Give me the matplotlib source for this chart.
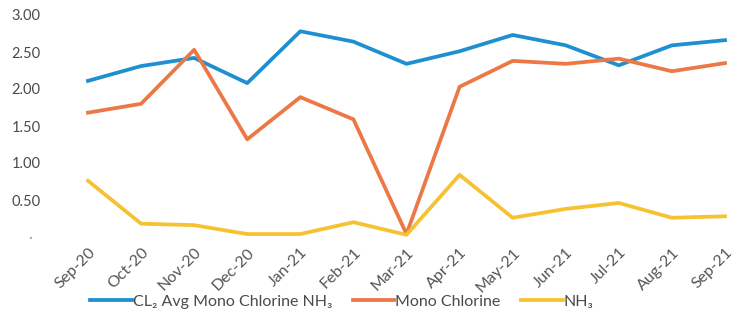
import matplotlib
matplotlib.use('Agg')
import matplotlib.pyplot as plt
import numpy as np

plt.rcParams['font.family'] = ['Lato', 'DejaVu Sans']

months = ['Sep-20', 'Oct-20', 'Nov-20', 'Dec-20', 'Jan-21', 'Feb-21', 'Mar-21',
          'Apr-21', 'May-21', 'Jun-21', 'Jul-21', 'Aug-21', 'Sep-21']
cl2_avg = [2.11, 2.31, 2.42, 2.08, 2.78, 2.64, 2.34, 2.51, 2.73, 2.59, 2.32, 2.59, 2.66]
mono_cl = [1.68, 1.80, 2.53, 1.32, 1.89, 1.59, 0.04, 2.03, 2.38, 2.34, 2.41, 2.24, 2.35]
nh3 = [0.76, 0.18, 0.16, 0.04, 0.04, 0.20, 0.03, 0.84, 0.26, 0.38, 0.46, 0.26, 0.28]
yticks = [0, 0.5, 1.0, 1.5, 2.0, 2.5, 3.0]
ytick_labels = ['\u2007\u2007\u00b7', '0.50', '1.00', '1.50', '2.00', '2.50', '3.00']

BLUE = '#1e8fd0'
ORANGE = '#ec7846'
YELLOW = '#f6c232'
TXT = '#4a4a4a'

fig = plt.figure(figsize=(7.41, 3.12), dpi=100)
ax = fig.add_axes([88 / 741, 75 / 312, (725 - 88) / 741, (237 - 15) / 312])

x = np.arange(len(months))
ax.plot(x, cl2_avg, color=BLUE, lw=2.7, clip_on=False,
        label='CL\u2082 Avg Mono Chlorine NH\u2083')
ax.plot(x, mono_cl, color=ORANGE, lw=2.7, clip_on=False,
        label='Mono Chlorine')
ax.plot(x, nh3, color=YELLOW, lw=2.7, clip_on=False,
        label='NH\u2083')

ax.set_xlim(0, len(months) - 1)
ax.set_ylim(0, 3)
ax.set_xticks(x)
ax.set_xticklabels(months, rotation=45, ha='right', rotation_mode='anchor',
                   fontsize=11.5, color='#555555')
ax.set_yticks(yticks)
ax.set_yticklabels(ytick_labels, fontsize=10.5, color=TXT, ha='left')
ax.get_yticklabels()[0].set_color('#999999')
ax.tick_params(axis='both', length=0)
ax.tick_params(axis='y', pad=55)
ax.tick_params(axis='x', pad=6)
for sp in ax.spines.values():
    sp.set_visible(False)

fig.legend(loc='lower left', bbox_to_anchor=(76 / 741, -0.035), ncol=3,
           frameon=False, fontsize=11.5, handlelength=2.6, handletextpad=0.05,
           columnspacing=1.3, labelcolor=TXT)

fig.savefig('out.png', dpi=100)
